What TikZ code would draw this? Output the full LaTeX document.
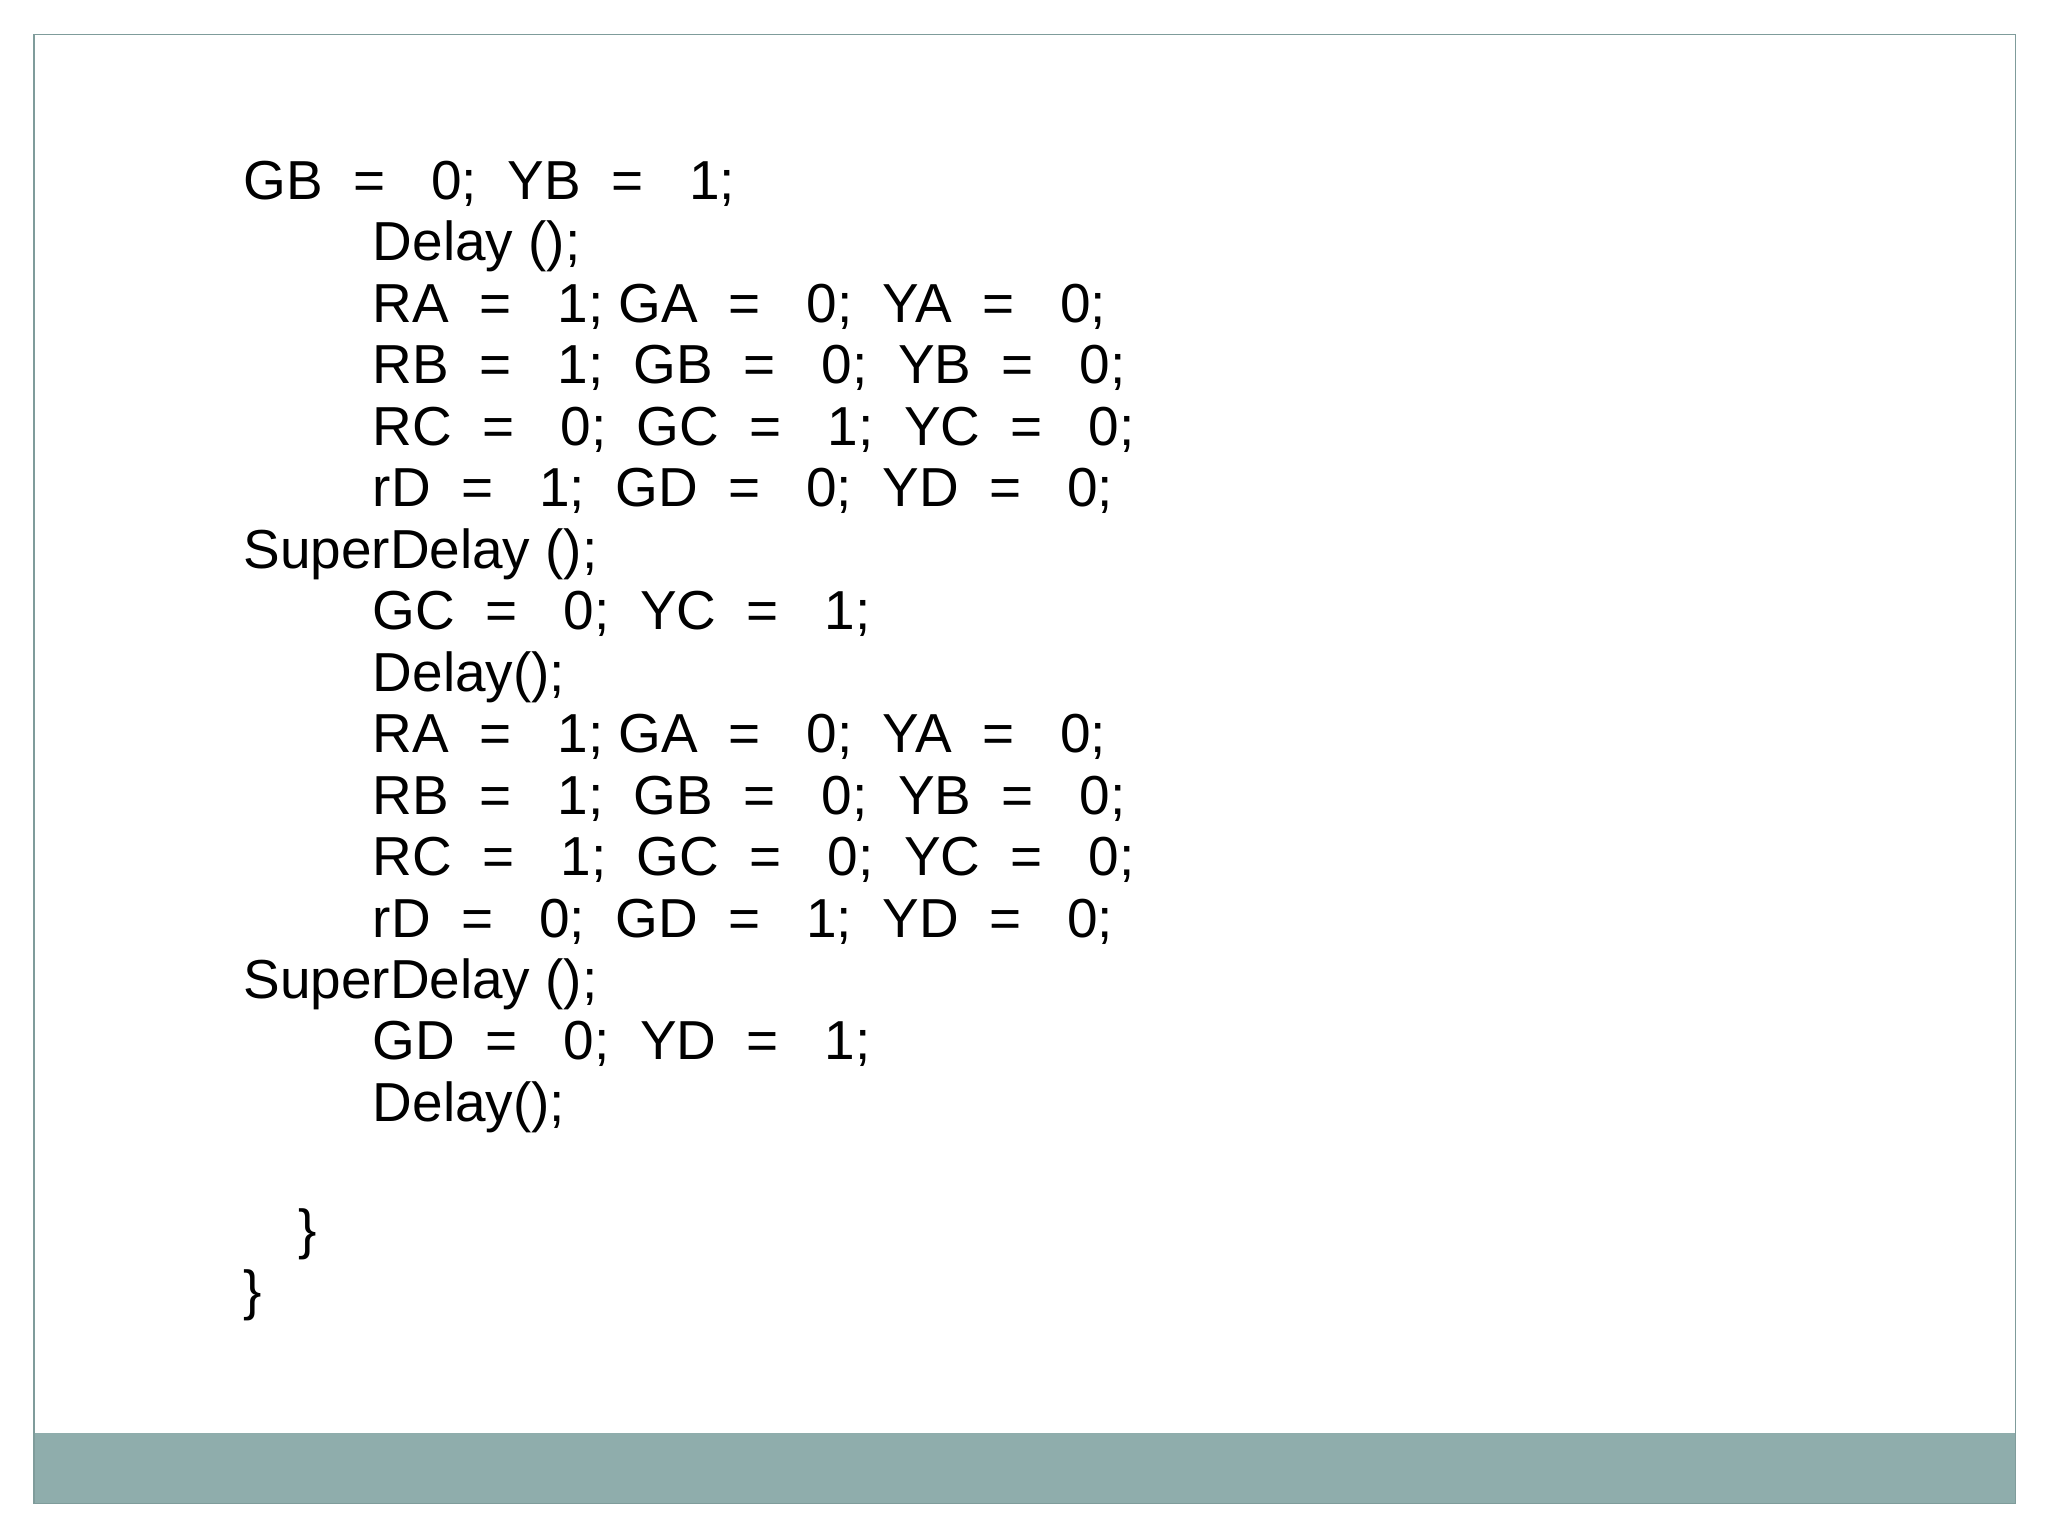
\documentclass[tikz,border=0pt]{standalone}
\usepackage{fontspec}
\setmainfont{Liberation Sans}
\definecolor{band}{HTML}{8FADAC}
\definecolor{frame}{HTML}{7F9C9B}
\begin{document}
\begin{tikzpicture}[x=1pt,y=1pt,
  ln/.style={anchor=base west,inner sep=0pt,font=\fontsize{42}{47}\selectfont}]
\useasboundingbox (0,0) rectangle (1566,1174.5);
\fill[white] (0,0) rectangle (1566,1174.5);
\fill[band] (26,25) rectangle (1541,79);
\draw[frame,line width=1.2pt] (26,25) rectangle (1541,1148);
\def\L{186}\def\I{285}
\newcommand{\ls}[3]{\node[ln] (#1) at (#2,{1175-#3-15}) {#1text};}
\node[ln] (l1) at (\L,{1175-153}) {GB\ \ =\ \ \ 0;\ \ YB\ \ =\ \ \ 1;};
\node[ln] (l2) at (\I,{1175-200}) {Delay ();};
\node[ln] (l3) at (\I,{1175-247}) {RA\ \ =\ \ \ 1; GA\ \ =\ \ \ 0;\ \ YA\ \ =\ \ \ 0;};
\node[ln] (l4) at (\I,{1175-294}) {RB\ \ =\ \ \ 1;\ \ GB\ \ =\ \ \ 0;\ \ YB\ \ =\ \ \ 0;};
\node[ln] (l5) at (\I,{1175-341}) {RC\ \ =\ \ \ 0;\ \ GC\ \ =\ \ \ 1;\ \ YC\ \ =\ \ \ 0;};
\node[ln] (l6) at (\I,{1175-388}) {rD\ \ =\ \ \ 1;\ \ GD\ \ =\ \ \ 0;\ \ YD\ \ =\ \ \ 0;};
\node[ln] (l7) at (\L,{1175-435}) {SuperDelay ();};
\node[ln] (l8) at (\I,{1175-482}) {GC\ \ =\ \ \ 0;\ \ YC\ \ =\ \ \ 1;};
\node[ln] (l9) at (\I,{1175-529}) {Delay();};
\node[ln] (l10) at (\I,{1175-576}) {RA\ \ =\ \ \ 1; GA\ \ =\ \ \ 0;\ \ YA\ \ =\ \ \ 0;};
\node[ln] (l11) at (\I,{1175-623}) {RB\ \ =\ \ \ 1;\ \ GB\ \ =\ \ \ 0;\ \ YB\ \ =\ \ \ 0;};
\node[ln] (l12) at (\I,{1175-670}) {RC\ \ =\ \ \ 1;\ \ GC\ \ =\ \ \ 0;\ \ YC\ \ =\ \ \ 0;};
\node[ln] (l13) at (\I,{1175-717}) {rD\ \ =\ \ \ 0;\ \ GD\ \ =\ \ \ 1;\ \ YD\ \ =\ \ \ 0;};
\node[ln] (l14) at (\L,{1175-764}) {SuperDelay ();};
\node[ln] (l15) at (\I,{1175-811}) {GD\ \ =\ \ \ 0;\ \ YD\ \ =\ \ \ 1;};
\node[ln] (l16) at (\I,{1175-858}) {Delay();};
\node[ln] (l17) at (228,{1175-955}) {\}};
\node[ln] (l18) at (\L,{1175-1002}) {\}};
\end{tikzpicture}
\end{document}
